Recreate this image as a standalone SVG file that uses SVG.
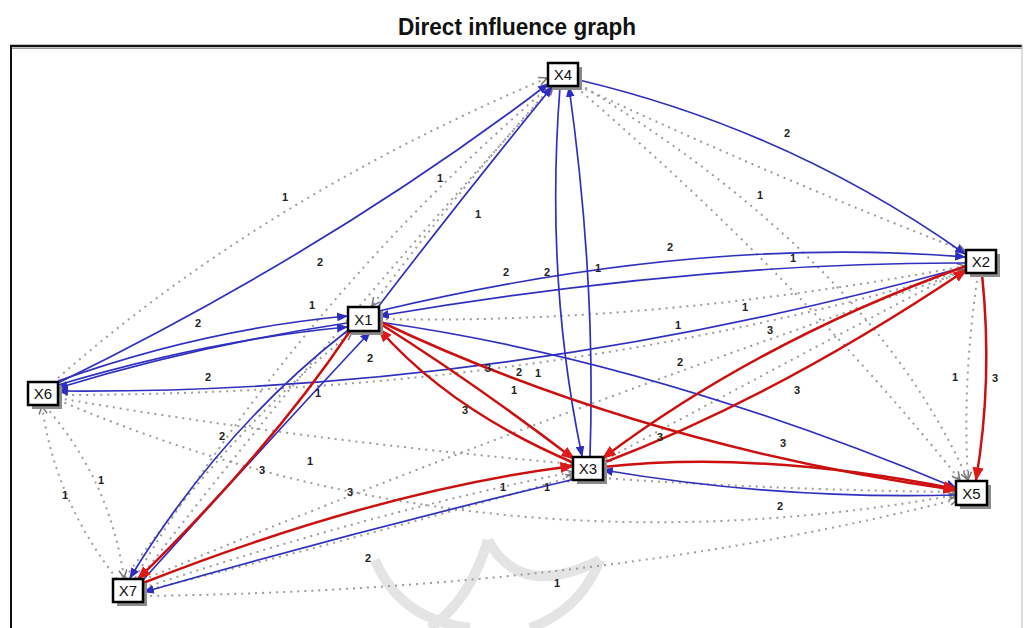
<svg xmlns="http://www.w3.org/2000/svg" width="1025" height="628" viewBox="0 0 1025 628">
<style>
.b{stroke:#3030c0;stroke-width:1.7;fill:none;marker-end:url(#mb)}
.r{stroke:#cc1010;stroke-width:2.5;fill:none;marker-end:url(#mr)}
.g{stroke:#9c9c9c;stroke-width:2;stroke-dasharray:2 5;fill:none;marker-end:url(#mg)}
.lb{font-family:"Liberation Sans",Arial,sans-serif;font-size:11px;font-weight:bold;fill:#222;text-anchor:middle}
.nt{font-family:"Liberation Sans",Arial,sans-serif;font-size:15px;fill:#111;text-anchor:middle}
.nb{fill:#fff;stroke:#000;stroke-width:2.5}
.sh{fill:#8c8c8c}
.wm{fill:none;stroke:#e4e4e4;stroke-width:10}
</style>
<defs>
<marker id="mb" viewBox="0 0 10 10" refX="9" refY="5" markerWidth="11" markerHeight="11" markerUnits="userSpaceOnUse" orient="auto"><path d="M0,1 L10,5 L0,9 z" fill="#2c2cc0"/></marker>
<marker id="mr" viewBox="0 0 10 10" refX="9" refY="5" markerWidth="14" markerHeight="14" markerUnits="userSpaceOnUse" orient="auto"><path d="M0,1 L10,5 L0,9 z" fill="#e01818"/></marker>
<marker id="mg" viewBox="0 0 10 10" refX="9" refY="5" markerWidth="10" markerHeight="10" markerUnits="userSpaceOnUse" orient="auto"><path d="M1,1 L9,5 L1,9" fill="none" stroke="#777" stroke-width="1.5"/></marker>
</defs>
<rect x="0" y="0" width="1025" height="628" fill="#fff"/>
<text x="517" y="35" font-family="'Liberation Sans',Arial,sans-serif" font-size="23" font-weight="bold" text-anchor="middle" fill="#111" textLength="238" lengthAdjust="spacingAndGlyphs">Direct influence graph</text>
<g id="frame">
<line x1="10" y1="46" x2="1022" y2="46" stroke="#111" stroke-width="2.5"/>
<line x1="12" y1="48.5" x2="1022" y2="48.5" stroke="#999" stroke-width="1"/>
<line x1="11" y1="45" x2="11" y2="628" stroke="#111" stroke-width="2"/>
<line x1="1022" y1="45" x2="1022" y2="628" stroke="#bbb" stroke-width="1"/>
</g>
<g id="watermark">
<path class="wm" d="M375,560 Q400,620 470,628"/>
<path class="wm" d="M488,540 Q470,600 430,628"/>
<path class="wm" d="M488,540 Q520,600 600,560"/>
<path class="wm" d="M600,560 Q580,610 530,628"/>
</g>
<g id="connectors">
<path class="g" d="M58,378 Q260,200 547,78"/>
<path class="g" d="M135,578 Q300,300 550,86"/>
<path class="g" d="M140,578 Q330,330 553,87"/>
<path class="g" d="M552,86 Q450,200 372,306"/>
<path class="g" d="M579,86 Q780,180 965,251"/>
<path class="g" d="M576,87 Q800,280 960,480"/>
<path class="g" d="M579,84 Q870,260 968,480"/>
<path class="g" d="M379,319 Q650,325 965,266"/>
<path class="g" d="M58,395 Q550,395 965,270"/>
<path class="g" d="M978,274 Q962,380 968,480"/>
<path class="g" d="M966,268 Q790,360 603,461"/>
<path class="g" d="M58,398 Q300,440 573,464"/>
<path class="g" d="M58,400 Q480,580 956,495"/>
<path class="g" d="M45,406 Q110,480 124,578"/>
<path class="g" d="M117,579 Q55,500 42,406"/>
<path class="g" d="M143,596 Q600,590 958,499"/>
<path class="g" d="M143,588 Q380,510 573,472"/>
<path class="g" d="M143,591 Q400,528 574,476"/>
<path class="g" d="M143,580 Q500,430 966,271"/>
<path class="g" d="M602,478 Q780,490 956,492"/>
<path class="g" d="M125,578 Q230,430 352,332"/>
<path class="b" d="M579,80 Q790,130 965,254"/>
<path class="b" d="M58,383 Q330,250 548,84"/>
<path class="b" d="M378,307 Q460,200 552,87"/>
<path class="b" d="M560,87 Q545,280 582,456"/>
<path class="b" d="M590,456 Q596,280 569,87"/>
<path class="b" d="M379,311 Q700,235 965,257"/>
<path class="b" d="M965,263 Q700,262 379,316"/>
<path class="b" d="M965,267 Q500,395 58,391"/>
<path class="b" d="M58,381 Q200,330 347,316"/>
<path class="b" d="M347,323 Q200,345 58,388"/>
<path class="b" d="M58,385 Q210,340 347,327"/>
<path class="b" d="M379,322 Q650,360 956,488"/>
<path class="b" d="M347,331 Q220,430 130,578"/>
<path class="b" d="M143,580 Q260,450 370,332"/>
<path class="b" d="M575,479 Q360,530 144,592"/>
<path class="b" d="M956,495 Q780,500 603,470"/>
<path class="r" d="M982,274 Q993,380 976,480"/>
<path class="r" d="M966,266 Q760,340 603,458"/>
<path class="r" d="M603,463 Q780,395 966,270"/>
<path class="r" d="M379,323 Q470,380 574,459"/>
<path class="r" d="M574,463 Q450,410 379,329"/>
<path class="r" d="M379,321 Q640,445 956,490"/>
<path class="r" d="M603,467 Q760,450 956,489"/>
<path class="r" d="M350,331 Q270,450 138,579"/>
<path class="r" d="M143,583 Q380,490 573,466"/>
</g>
<g id="labels">
<text class="lb" x="285" y="201">1</text>
<text class="lb" x="440" y="182">1</text>
<text class="lb" x="478" y="218">1</text>
<text class="lb" x="787" y="137">2</text>
<text class="lb" x="760" y="199">1</text>
<text class="lb" x="320" y="266">2</text>
<text class="lb" x="670" y="251">2</text>
<text class="lb" x="506" y="276">2</text>
<text class="lb" x="547" y="276">2</text>
<text class="lb" x="598" y="272">1</text>
<text class="lb" x="793" y="262">1</text>
<text class="lb" x="312" y="309">1</text>
<text class="lb" x="198" y="327">2</text>
<text class="lb" x="745" y="311">1</text>
<text class="lb" x="678" y="329">1</text>
<text class="lb" x="370" y="362">2</text>
<text class="lb" x="770" y="334">3</text>
<text class="lb" x="208" y="381">2</text>
<text class="lb" x="488" y="372">3</text>
<text class="lb" x="519" y="376">2</text>
<text class="lb" x="538" y="377">1</text>
<text class="lb" x="514" y="394">1</text>
<text class="lb" x="318" y="397">1</text>
<text class="lb" x="680" y="366">2</text>
<text class="lb" x="797" y="394">3</text>
<text class="lb" x="955" y="381">1</text>
<text class="lb" x="995" y="382">3</text>
<text class="lb" x="465" y="414">3</text>
<text class="lb" x="222" y="440">2</text>
<text class="lb" x="660" y="441">3</text>
<text class="lb" x="783" y="447">3</text>
<text class="lb" x="310" y="465">1</text>
<text class="lb" x="262" y="474">3</text>
<text class="lb" x="101" y="484">1</text>
<text class="lb" x="65" y="499">1</text>
<text class="lb" x="350" y="496">3</text>
<text class="lb" x="503" y="491">1</text>
<text class="lb" x="547" y="491">1</text>
<text class="lb" x="780" y="510">2</text>
<text class="lb" x="368" y="562">2</text>
<text class="lb" x="557" y="587">1</text>
</g>
<g id="X4"><rect class="sh" x="552" y="67" width="30" height="23"/><rect class="nb" x="548" y="63" width="30" height="23"/><text class="nt" x="563" y="80">X4</text></g>
<g id="X2"><rect class="sh" x="970" y="254" width="30" height="23"/><rect class="nb" x="966" y="250" width="30" height="23"/><text class="nt" x="981" y="267">X2</text></g>
<g id="X1"><rect class="sh" x="352" y="311" width="31" height="24"/><rect class="nb" x="348" y="307" width="31" height="24"/><text class="nt" x="363.5" y="325">X1</text></g>
<g id="X6"><rect class="sh" x="32" y="386" width="30" height="23"/><rect class="nb" x="28" y="382" width="30" height="23"/><text class="nt" x="43" y="399">X6</text></g>
<g id="X3"><rect class="sh" x="577" y="461" width="30" height="23"/><rect class="nb" x="573" y="457" width="30" height="23"/><text class="nt" x="588" y="474">X3</text></g>
<g id="X5"><rect class="sh" x="960" y="485" width="31" height="24"/><rect class="nb" x="956" y="481" width="31" height="24"/><text class="nt" x="971.5" y="499">X5</text></g>
<g id="X7"><rect class="sh" x="117" y="583" width="30" height="23"/><rect class="nb" x="113" y="579" width="30" height="23"/><text class="nt" x="128" y="596">X7</text></g>
</svg>
